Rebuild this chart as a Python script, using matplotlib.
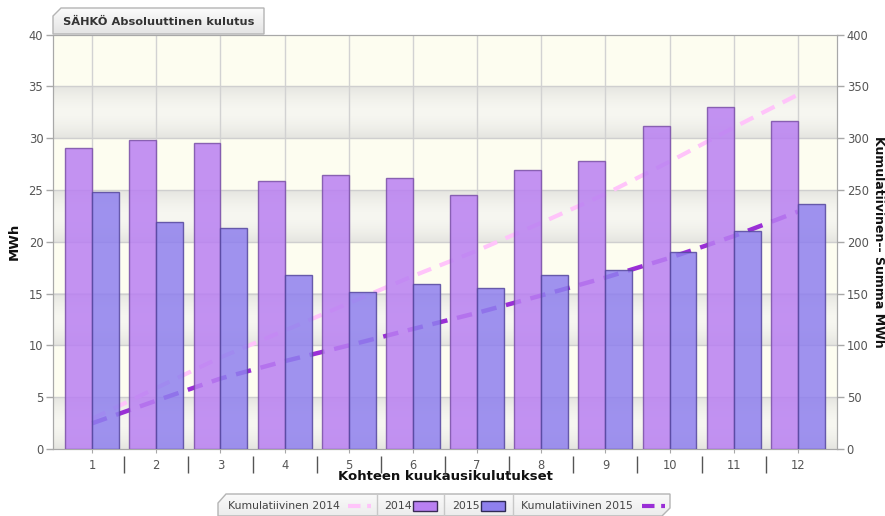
import numpy as np
import matplotlib
matplotlib.use('Agg')
import matplotlib.pyplot as plt
from matplotlib.patches import Polygon, Rectangle

# monthly consumption, MWh
months = np.arange(1, 13)
kulutus_2014 = [29.1, 29.8, 29.5, 25.9, 26.5, 26.2, 24.5, 26.9, 27.8, 31.2, 33.0, 31.7]
kulutus_2015 = [24.8, 21.9, 21.3, 16.8, 15.2, 15.9, 15.5, 16.8, 17.3, 19.0, 21.0, 23.7]
# cumulative sums, MWh (right axis)
kumul_2014 = [29.1, 58.9, 88.4, 114.3, 140.8, 167.0, 191.5, 218.4, 246.2, 277.4, 310.4, 342.1]
kumul_2015 = [24.8, 46.7, 68.0, 84.8, 100.0, 115.9, 131.4, 148.2, 165.5, 184.5, 205.5, 229.2]

c14 = '#b980f2'
c14_edge = '#7a4fa8'
c15 = '#8f80ee'
c15_edge = '#55479f'
line14 = '#ffc4fa'
line15 = '#9a2fd6'
txt = '#555555'

W, H = 885, 516
fig = plt.figure(figsize=(W / 100, H / 100), dpi=100)
plt.rcParams['font.family'] = 'DejaVu Sans'

# axes placed in pixel terms
x0, x1, ytop, ybot = 53, 837, 34.7, 449
ax = fig.add_axes([x0 / W, 1 - ybot / H, (x1 - x0) / W, (ybot - ytop) / H])
ax2 = ax.twinx()

xmin, xmax = 0.39, 12.61
ax.set_xlim(xmin, xmax)
ax.set_ylim(0, 400)
ax2.set_ylim(0, 40)

# background bands
ax.set_facecolor('#fdfdf0')
grad = np.abs(np.linspace(-1, 1, 64)) ** 1.6
gray = np.array([0.968, 0.968, 0.945])[None, :] * (1 - grad[:, None]) + \
    np.array([0.90, 0.90, 0.88])[None, :] * grad[:, None]
for lo in range(0, 400, 100):
    ax.imshow(gray[:, None, :], extent=[xmin, xmax, lo, lo + 50], aspect='auto',
              origin='lower', zorder=0, interpolation='bilinear')
ax.set_xlim(xmin, xmax)
ax.set_ylim(0, 400)

# grid
for m in months:
    ax.axvline(m, color='#d2d2d2', lw=1, zorder=1)
for v in range(50, 400, 50):
    ax.axhline(v, color='#cfcfcf', lw=1, zorder=1)

# cumulative lines (behind bars)
ax.plot(months, kumul_2014, color=line14, lw=3, ls=(0, (3.5, 2.2)), zorder=2,
        dash_capstyle='butt')
ax.plot(months, kumul_2015, color=line15, lw=3.2, ls=(0, (3.5, 2.2)), zorder=2,
        dash_capstyle='butt')

# bars
bw = 0.42
ax2.bar(months - bw / 2, kulutus_2014, width=bw, color=c14, edgecolor=c14_edge,
        lw=1, alpha=0.85, zorder=3)
ax2.bar(months + bw / 2, kulutus_2015, width=bw, color=c15, edgecolor=c15_edge,
        lw=1, alpha=0.85, zorder=3)
ax2.patch.set_visible(False)

# axes: left = MWh (bars), right = cumulative
ax.yaxis.tick_right()
ax2.yaxis.tick_left()

ax.set_yticks(range(0, 401, 50))
ax2.set_yticks(range(0, 41, 5))
for a in (ax, ax2):
    for s in a.spines.values():
        s.set_color('#a8a8a8')
    a.tick_params(axis='y', colors='#a8a8a8', labelcolor=txt, labelsize=8.3,
                  length=5, width=1, pad=2)

ax.set_xticks(months)
ax.set_xticklabels([str(m) for m in months])
ax.tick_params(axis='x', colors='#a8a8a8', labelcolor=txt, labelsize=8.3,
               length=3, pad=4)
sep = months[:-1] + 0.5
ax.vlines(sep, -0.016, -0.058, transform=ax.get_xaxis_transform(),
          color='#555555', lw=1, clip_on=False)

ax2.set_ylabel('MWh', fontsize=9.5, fontweight='bold', color='#111111',
               va='center')
ax2.yaxis.set_label_coords(-0.05, 0.5)
ax.set_ylabel('Kumulatiivinen-- Summa MWh', fontsize=9, fontweight='bold',
              color='#111111', rotation=-90, va='center')
ax.yaxis.set_label_coords(1.053, 0.5)
ax.set_xlabel('Kohteen kuukausikulutukset', fontsize=9.5, fontweight='bold',
              color='#111111', labelpad=-1)

# overlay in pixel coords for title tab and legend
ov = fig.add_axes([0, 0, 1, 1], zorder=10)
ov.set_xlim(0, W)
ov.set_ylim(H, 0)
ov.axis('off')
ov.patch.set_visible(False)


def grad_poly(pts, top='#fbfbfb', bottom='#e4e4e4'):
    poly = Polygon(pts, closed=True, facecolor='none', edgecolor='#b4b4b4', lw=1)
    ov.add_patch(poly)
    xs = [p[0] for p in pts]
    ys = [p[1] for p in pts]
    c1 = np.array(matplotlib.colors.to_rgb(top))
    c2 = np.array(matplotlib.colors.to_rgb(bottom))
    t = np.linspace(0, 1, 32)[:, None]
    img = (c1 * (1 - t) + c2 * t)[:, None, :]
    im = ov.imshow(img, extent=[min(xs), max(xs), max(ys), min(ys)], aspect='auto',
                   zorder=0, interpolation='bilinear')
    im.set_clip_path(poly)
    ov.set_xlim(0, W)
    ov.set_ylim(H, 0)


# title tab
grad_poly([(53, 34), (53, 16), (61, 8), (264, 8), (264, 34)])
ov.text(63, 21.5, 'SÄHKÖ Absoluuttinen kulutus', fontsize=8.2, fontweight='bold',
        color='#333333', va='center', ha='left')

# legend
grad_poly([(218, 516), (218, 503), (226, 494), (670, 494), (670, 508), (662, 516)],
          top='#fafafa', bottom='#ececec')
ly = 506
fs = 7.8
ov.text(228, ly, 'Kumulatiivinen 2014', fontsize=fs, color='#444444', va='center')
ov.plot([348, 371], [ly, ly], color=line14, lw=3, ls=(0, (3.0, 1.6)))
ov.plot([377, 377], [494, 516], color='#c8c8c8', lw=1)
ov.text(384, ly, '2014', fontsize=fs, color='#444444', va='center')
ov.add_patch(Rectangle((413, 501), 24, 10, facecolor=c14, edgecolor='#3a2a55', lw=1))
ov.plot([444, 444], [494, 516], color='#c8c8c8', lw=1)
ov.text(452, ly, '2015', fontsize=fs, color='#444444', va='center')
ov.add_patch(Rectangle((481, 501), 24, 10, facecolor=c15, edgecolor='#2f2a55', lw=1))
ov.plot([513, 513], [494, 516], color='#c8c8c8', lw=1)
ov.text(521, ly, 'Kumulatiivinen 2015', fontsize=fs, color='#444444', va='center')
ov.plot([642, 665], [ly, ly], color=line15, lw=3, ls=(0, (3.0, 1.6)))

fig.savefig('out.png', dpi=100)
